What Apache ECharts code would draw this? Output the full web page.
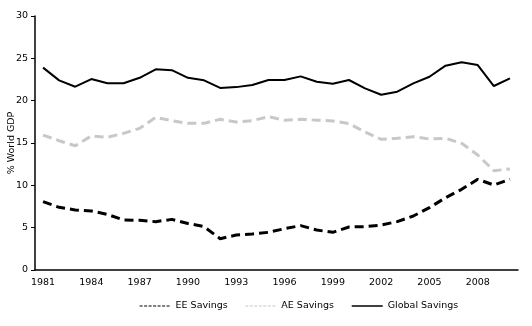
<!DOCTYPE html>
<html><head><meta charset="utf-8">
<script src="https://cdn.jsdelivr.net/npm/echarts@6/dist/echarts.min.js"></script>
<style>html,body{margin:0;padding:0;background:#fff}#c{width:532px;height:326px}</style>
</head><body><div id="c"></div>
<script>
const years = ['1981','1982','1983','1984','1985','1986','1987','1988','1989','1990','1991','1992','1993','1994','1995','1996','1997','1998','1999','2000','2001','2002','2003','2004','2005','2006','2007','2008','2009','2010'];
const eeSavings = [8.07,7.4,7.09,6.97,6.57,5.9,5.87,5.71,5.98,5.5,5.12,3.7,4.13,4.25,4.45,4.88,5.24,4.72,4.45,5.08,5.12,5.31,5.71,6.38,7.36,8.54,9.53,10.71,10.04,10.71];
const aeSavings = [15.94,15.27,14.68,15.83,15.67,16.14,16.73,18.03,17.64,17.32,17.32,17.8,17.48,17.64,18.1,17.7,17.8,17.7,17.6,17.3,16.3,15.43,15.55,15.75,15.47,15.55,14.96,13.58,11.73,11.93];
const globalSavings = [23.9,22.4,21.65,22.55,22.05,22.05,22.7,23.7,23.6,22.7,22.4,21.5,21.6,21.85,22.45,22.44,22.87,22.24,22.0,22.44,21.46,20.7,21.06,22.05,22.83,24.13,24.53,24.21,21.73,22.64];
const font = 'DejaVu Sans';
const chart = echarts.init(document.getElementById('c'));
chart.setOption({
  animation: false,
  backgroundColor: '#fff',
  textStyle: {fontFamily: font},
  grid: {left: 35, right: 14, top: 16, bottom: 56, containLabel: false, outerBoundsMode: 'none'},
  legend: {
    top: 296, left: 134,
    itemWidth: 31, itemHeight: 6, itemGap: 17,
    itemStyle: {opacity: 0, borderWidth: 0},
    textStyle: {fontFamily: font, fontSize: 9.5, color: '#000'},
    data: [
      {name: 'EE Savings', lineStyle: {width: 1.2, type: [3,1.5]}},
      {name: 'AE Savings', lineStyle: {width: 1.2, type: [3,1.5]}},
      {name: 'Global Savings', lineStyle: {width: 1.5}}
    ]
  },
  xAxis: {
    type: 'category', data: years, boundaryGap: true,
    axisLine: {lineStyle: {color: '#000', width: 1.5}},
    axisTick: {interval: 0, length: 4, lineStyle: {color: '#000'}},
    axisLabel: {interval: 2, color: '#000', fontSize: 9.5, margin: 8, fontFamily: font}
  },
  yAxis: {
    type: 'value', min: 0, max: 30, interval: 5,
    name: '% World GDP', nameLocation: 'middle', nameGap: 18, nameMoveOverlap: false,
    nameTextStyle: {color: '#000', fontSize: 9.5, fontFamily: font},
    axisLine: {show: true, lineStyle: {color: '#000', width: 1.5}},
    axisTick: {show: true, length: 4, lineStyle: {color: '#000'}},
    axisLabel: {color: '#000', fontSize: 9.5, margin: 7, fontFamily: font},
    splitLine: {show: false}
  },
  series: [
    {name: 'EE Savings', type: 'line', data: eeSavings, showSymbol: false, symbol: 'none',
     lineStyle: {color: '#000', width: 3, type: [9,5]}, itemStyle: {color: '#000'}},
    {name: 'AE Savings', type: 'line', data: aeSavings, showSymbol: false, symbol: 'none',
     lineStyle: {color: '#c8c8c8', width: 3, type: [9,5]}, itemStyle: {color: '#c8c8c8'}},
    {name: 'Global Savings', type: 'line', data: globalSavings, showSymbol: false, symbol: 'none',
     lineStyle: {color: '#000', width: 2}, itemStyle: {color: '#000'}}
  ]
});
</script></body></html>
